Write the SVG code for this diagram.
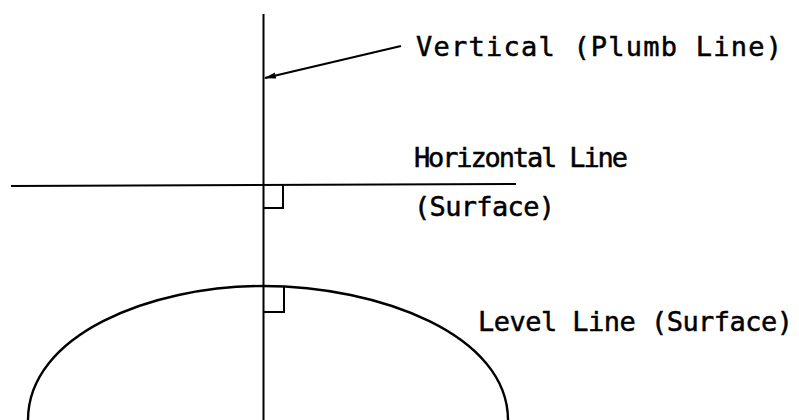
<svg xmlns="http://www.w3.org/2000/svg" width="799" height="420" viewBox="0 0 799 420">
  <defs>
    <style>
      .ln { fill: none; stroke: #000; stroke-width: 2; stroke-linecap: butt; }
      .arc { fill: none; stroke: #000; stroke-width: 2.4; }
      .lbl { font-family: "DejaVu Sans Mono", "Liberation Mono", monospace; font-size: 27px; fill: #000; stroke: #000; stroke-width: 0.5; }
    </style>
    <marker id="arrow" markerWidth="12" markerHeight="8" refX="11" refY="4" orient="auto" markerUnits="userSpaceOnUse">
      <path d="M0,1 L12,4 L0,7 Z" fill="#000"/>
    </marker>
  </defs>
  <rect width="799" height="420" fill="#fff"/>

  <g id="vertical-line">
    <line class="ln" x1="263.5" y1="14" x2="263.5" y2="420"/>
  </g>
  <g id="horizontal-line">
    <line class="ln" x1="11" y1="186" x2="516" y2="184"/>
    <path class="ln" d="M283,185 V208 H264"/>
  </g>
  <g id="level-line">
    <path class="arc" d="M28,420 C28,335 150,286 263,286 C380,286 508,335 508,420"/>
    <path class="ln" d="M284,286 V312 H264"/>
  </g>

  <g id="connectors">
    <line class="ln" x1="401" y1="46" x2="265" y2="78" marker-end="url(#arrow)"/>
  </g>

  <g id="labels">
    <text class="lbl" x="416" y="56" textLength="366" lengthAdjust="spacing">Vertical (Plumb Line)</text>
    <text class="lbl" x="414" y="167" textLength="214" lengthAdjust="spacing">Horizontal Line</text>
    <text class="lbl" x="414" y="216" textLength="141" lengthAdjust="spacing">(Surface)</text>
    <text class="lbl" x="478" y="331" textLength="315" lengthAdjust="spacing">Level Line (Surface)</text>
  </g>
</svg>
